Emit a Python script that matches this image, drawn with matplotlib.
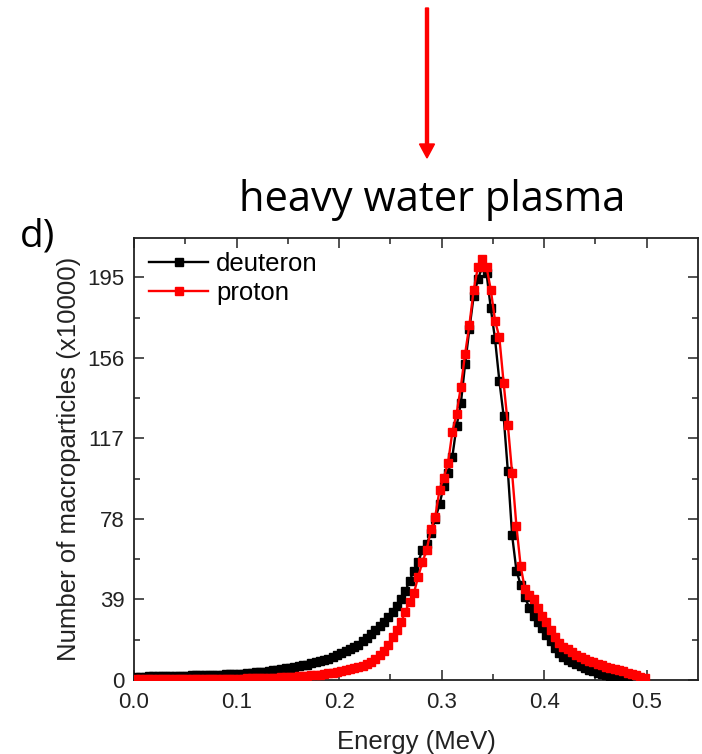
import numpy as np
import matplotlib
matplotlib.use("Agg")
import matplotlib.pyplot as plt
from matplotlib.patches import FancyArrow

# Energy bins: 120 bins over 0-0.5 MeV, values plotted at bin centres
n_bins = 120
bin_width = 0.5 / n_bins

# Number of macroparticles (x10000) per energy bin
deuteron = [
    1.5, 1.6, 1.6, 1.7, 1.7, 1.8, 1.8, 1.9, 1.9, 2.0, 2.0, 2.1,
    2.1, 2.2, 2.2, 2.3, 2.3, 2.4, 2.5, 2.5, 2.6, 2.7, 2.8, 2.9,
    3.0, 3.1, 3.3, 3.5, 3.7, 3.9, 4.1, 4.3, 4.6, 4.9, 5.2, 5.6,
    6.0, 6.3, 6.7, 7.1, 7.5, 8.0, 8.5, 9.0, 9.6, 10.3, 11.0, 12.0,
    13.0, 14.0, 15.0, 16.0, 17.0, 18.7, 20.5, 22.2, 24.0, 26.0, 28.0, 30.5,
    33.0, 36.0, 39.0, 43.0, 48.0, 53.0, 57.0, 63.0, 66.0, 71.0, 78.0, 85.0,
    94.0, 100.0, 108.0, 123.0, 134.0, 153.0, 170.0, 186.0, 194.0, 200.0, 197.0, 180.0,
    165.0, 145.0, 128.0, 101.0, 70.0, 53.0, 46.0, 40.0, 35.0, 31.0, 28.0, 25.0,
    22.0, 19.0, 15.5, 13.0, 11.0, 9.5, 8.5, 7.6, 6.8, 5.8, 5.0, 4.3,
    3.6, 2.9, 2.3, 1.8, 1.3, 0.9, 0.5, 0.3,
]

proton = [
    0.3, 0.3, 0.3, 0.3, 0.3, 0.3, 0.3, 0.4, 0.4, 0.4, 0.4, 0.4,
    0.4, 0.5, 0.5, 0.5, 0.5, 0.5, 0.5, 0.6, 0.6, 0.6, 0.6, 0.7,
    0.7, 0.7, 0.8, 0.8, 0.9, 0.9, 1.0, 1.0, 1.1, 1.2, 1.3, 1.4,
    1.5, 1.6, 1.7, 1.9, 2.0, 2.2, 2.4, 2.6, 2.9, 3.2, 3.5, 3.9,
    4.3, 4.8, 5.3, 5.9, 6.5, 7.0, 7.7, 8.5, 10.0, 12.0, 14.0, 17.0,
    21.0, 24.0, 28.0, 33.0, 38.0, 42.0, 50.0, 57.0, 63.0, 73.0, 79.0, 92.0,
    98.0, 105.0, 120.0, 129.0, 142.0, 158.0, 172.0, 189.0, 200.0, 204.0, 200.0, 189.0,
    174.0, 166.0, 144.0, 123.5, 100.0, 74.6, 55.0, 44.0, 41.0, 39.0, 35.0, 31.0,
    28.0, 24.0, 21.0, 18.0, 16.0, 15.0, 13.5, 12.3, 11.2, 10.2, 9.3, 8.5,
    7.8, 7.1, 6.5, 6.0, 5.4, 4.8, 4.2, 3.6, 2.9, 2.2, 1.5, 0.8,
]

energy_d = (np.arange(len(deuteron)) + 0.5) * bin_width
energy_p = (np.arange(len(proton)) + 0.5) * bin_width

y_ticks = [0, 39, 78, 117, 156, 195]
x_ticks = [0.0, 0.1, 0.2, 0.3, 0.4, 0.5]

plt.rcParams["font.family"] = ["Liberation Sans", "DejaVu Sans"]

fig = plt.figure(figsize=(7.02, 7.54), dpi=100)
ax = fig.add_axes([134 / 702, 1 - 680 / 754, (698 - 134) / 702, (680 - 238) / 754])

ax.plot(energy_d, deuteron, color="black", lw=1.7, marker="s", ms=5.8,
        mec="black", mfc="black", label="deuteron", zorder=3)
ax.plot(energy_p, proton, color="#ff0000", lw=1.7, marker="s", ms=5.8,
        mec="#ff0000", mfc="#ff0000", label="proton", zorder=4)

ax.set_xlim(0.0, 0.55)
ax.set_ylim(0, 214)
ax.set_xticks(x_ticks)
ax.set_xticklabels([f"{v:.1f}" for v in x_ticks])
ax.set_xticks(np.arange(0.05, 0.55, 0.1), minor=True)
ax.set_yticks(y_ticks)
ax.set_yticklabels([str(v) for v in y_ticks])
ax.set_yticks(np.arange(19.5, 214, 39), minor=True)

ax.tick_params(which="both", direction="in", top=True, right=True,
               labelsize=16, colors="#222222", width=1.1)
ax.tick_params(which="major", length=7)
ax.tick_params(which="minor", length=4)
ax.tick_params(axis="x", which="major", pad=9)
ax.tick_params(axis="y", which="major", pad=7)
for sp in ax.spines.values():
    sp.set_linewidth(1.3)
    sp.set_color("#222222")

ax.set_xlabel("Energy (MeV)", fontsize=18.5, color="#222222", labelpad=12)
ax.set_ylabel("Number of macroparticles (x10000)", fontsize=18.5,
              color="#222222", labelpad=4)

ax.legend(loc="upper left", frameon=False, fontsize=18.5,
          handlelength=2.3, handletextpad=0.3, labelspacing=0.2,
          borderaxespad=0.0, bbox_to_anchor=(0.009, 0.991))

# Panel title and label
fig.text(432 / 702, 1 - 200 / 754, "heavy water plasma", fontsize=30,
         family=["Open Sans", "DejaVu Sans"], ha="center", va="center",
         color="black")
fig.text(38 / 702, 1 - 237 / 754, "d)", fontsize=28,
         family=["Open Sans", "DejaVu Sans"], ha="center", va="center",
         color="black")

# Red downward arrow above the title
fig.add_artist(FancyArrow(
    427 / 702, 1 - 8 / 754, 0, -(150 / 754), width=3 / 702,
    head_width=15 / 702, head_length=14 / 754, length_includes_head=True,
    color="#ff0000", transform=fig.transFigure))

fig.savefig("out.png", dpi=100)
